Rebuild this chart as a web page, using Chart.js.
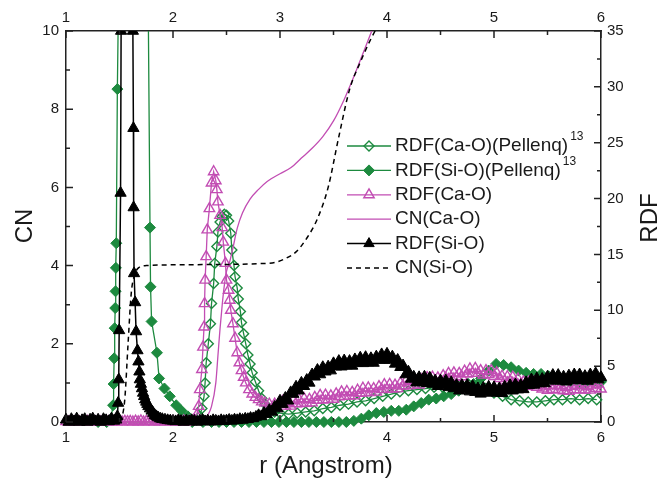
<!DOCTYPE html>
<html>
<head>
<meta charset="utf-8">
<script src="https://cdn.jsdelivr.net/npm/chart.js@4.4.0/dist/chart.umd.min.js"></script>
<style>
body { margin: 0; background: #fff; }
canvas { display: block; }
</style>
</head>
<body>
<canvas id="rdf-chart" width="659" height="478"></canvas>
<script>
var GREEN = '#1d8a3f';
var MAGENTA = '#c24db3';
var BLACK = '#000000';
var AXIS = '#222222';
var FONT = '"Liberation Sans", Arial, sans-serif';

// RDF(Ca-O)(Pellenq) - open diamonds, right axis
var rCaOPel = [2.18, 2.22, 2.25, 2.27, 2.29, 2.30, 2.31, 2.33, 2.35, 2.36, 2.38, 2.39, 2.41, 2.42, 2.44,
    2.46, 2.48, 2.50, 2.52, 2.54, 2.55, 2.57, 2.58, 2.60, 2.61, 2.63, 2.64, 2.66, 2.68, 2.70,
    2.72, 2.74, 2.77, 2.80, 2.83, 2.86, 2.90, 2.95, 3.00, 3.08, 3.16, 3.24, 3.32, 3.40, 3.48,
    3.56, 3.64, 3.72, 3.80, 3.88, 3.96, 4.04, 4.12, 4.20, 4.28, 4.36, 4.44, 4.52, 4.60, 4.68,
    4.76, 4.84, 4.92, 5.00, 5.08, 5.16, 5.24, 5.32, 5.40, 5.48, 5.56, 5.64, 5.72, 5.80, 5.88, 5.96];
var rdfCaOPel = [0, 0.2, 0.5, 1.2, 2.3, 3.5, 5.3, 7.0, 8.8, 10.6, 12.4, 14.2, 15.7, 17.0, 17.9,
    18.4, 18.6, 18.5, 18.0, 16.9, 15.4, 14.0, 13.0, 12.0, 11.0, 9.9, 8.9, 7.9, 7.0, 6.0,
    5.2, 4.4, 3.6, 2.8, 2.1, 1.6, 1.2, 0.9, 0.8, 0.7, 0.8, 0.9, 1.0, 1.2, 1.3,
    1.5, 1.6, 1.8, 1.9, 2.1, 2.3, 2.5, 2.7, 2.8, 2.9, 3.0, 3.1, 3.1, 3.2, 3.3,
    3.4, 3.3, 3.0, 2.6, 2.3, 2.0, 1.9, 1.8, 1.8, 1.9, 2.0, 2.0, 2.1, 2.0, 2.1, 2.0];

// RDF(Si-O)(Pellenq) - filled diamonds, right axis
var rSiOPel = [1.30, 1.38, 1.42, 1.44, 1.445, 1.45, 1.455, 1.46, 1.463, 1.466, 1.47, 1.48, 1.50, 1.60, 1.70,
    1.77, 1.785, 1.79, 1.80, 1.85, 1.87, 1.92, 1.97, 2.03, 2.08, 2.14, 2.20, 2.28, 2.36, 2.43,
    2.50, 2.57, 2.64, 2.71, 2.78, 2.85, 2.92, 2.99, 3.06, 3.13, 3.20, 3.27, 3.34, 3.41, 3.48,
    3.55, 3.62, 3.69, 3.76, 3.83, 3.90, 3.97, 4.04, 4.11, 4.18, 4.25, 4.32, 4.39, 4.46, 4.53,
    4.60, 4.67, 4.74, 4.81, 4.88, 4.95, 5.02, 5.09, 5.16, 5.23, 5.30, 5.37, 5.44, 5.51, 5.58,
    5.65, 5.72, 5.79, 5.86, 5.93, 6.00];
var rdfSiOPel = [0, 0, 0.3, 1.5, 3.4, 5.7, 8.4, 10.2, 11.7, 13.8, 16.0, 29.8, 45, 60, 50,
    35.5, 17.4, 12.1, 9.0, 6.2, 3.9, 3.0, 2.3, 1.5, 1.0, 0.5, 0.2, 0, 0, 0,
    0, 0, 0, 0, 0, 0, 0, 0, 0, 0, 0, 0, 0, 0, 0,
    0, 0, 0.1, 0.3, 0.6, 0.8, 0.9, 1.0, 1.0, 1.1, 1.4, 1.7, 2.0, 2.1, 2.3,
    2.5, 2.8, 3.1, 3.4, 3.9, 4.6, 5.2, 5.1, 4.9, 4.6, 4.4, 4.3, 4.3, 4.1, 3.9,
    3.7, 3.6, 3.5, 3.5, 3.6, 3.6];

// RDF(Ca-O) - open triangles, right axis (head, first peak, tail)
var rCaOHead = [1.000, 1.025, 1.050, 1.075, 1.100, 1.125, 1.150, 1.175,
    1.200, 1.225, 1.250, 1.275, 1.300, 1.325, 1.350, 1.375,
    1.400, 1.425, 1.450, 1.475, 1.500, 1.525, 1.550, 1.575,
    1.600, 1.625, 1.650, 1.675, 1.700, 1.725, 1.750, 1.775,
    1.800, 1.825, 1.850, 1.875, 1.900, 1.925, 1.950, 1.975,
    2.000, 2.025, 2.050, 2.075, 2.100, 2.125, 2.150, 2.175];
var rdfCaOHead = [0.05, 0, 0.08, 0.02, 0.1, 0, 0.06, 0.03,
    0.05, 0, 0.08, 0.02, 0.1, 0, 0.06, 0.03,
    0.05, 0, 0.08, 0.02, 0.1, 0, 0.06, 0.03,
    0.05, 0, 0.08, 0.02, 0.1, 0, 0.06, 0.03,
    0.05, 0, 0.08, 0.02, 0.1, 0, 0.06, 0.03,
    0.05, 0, 0.08, 0.02, 0.1, 0, 0.06, 0.03];
var rCaOPeak = [2.20, 2.22, 2.24, 2.25, 2.27, 2.28, 2.29, 2.295, 2.30, 2.31, 2.32, 2.34, 2.36, 2.38, 2.40,
    2.41, 2.42, 2.44, 2.46, 2.47, 2.49, 2.50, 2.52, 2.53, 2.54, 2.56, 2.58, 2.60, 2.62, 2.64,
    2.66, 2.68, 2.71, 2.74, 2.77, 2.80, 2.83, 2.86, 2.90, 2.95, 3.00];
var rdfCaOPeak = [0.2, 0.6, 1.4, 2.9, 4.7, 6.7, 8.5, 10.6, 12.7, 14.8, 17.2, 19.1, 21.4, 22.4, 21.6,
    20.8, 19.7, 18.5, 17.4, 16.1, 14.2, 12.7, 11.8, 10.9, 10.0, 8.8, 7.5, 6.2, 5.3, 4.6,
    4.0, 3.5, 2.9, 2.5, 2.2, 2.0, 1.8, 1.7, 1.6, 1.6, 1.6];
var rCaOTail = [3.025, 3.050, 3.075, 3.100, 3.125, 3.150, 3.175, 3.200,
    3.225, 3.250, 3.275, 3.300, 3.325, 3.350, 3.375, 3.400,
    3.425, 3.450, 3.475, 3.500, 3.525, 3.550, 3.575, 3.600,
    3.625, 3.650, 3.675, 3.700, 3.725, 3.750, 3.775, 3.800,
    3.825, 3.850, 3.875, 3.900, 3.925, 3.950, 3.975, 4.000,
    4.025, 4.050, 4.075, 4.100, 4.125, 4.150, 4.175, 4.200,
    4.225, 4.250, 4.275, 4.300, 4.325, 4.350, 4.375, 4.400,
    4.425, 4.450, 4.475, 4.500, 4.525, 4.550, 4.575, 4.600,
    4.625, 4.650, 4.675, 4.700, 4.725, 4.750, 4.775, 4.800,
    4.825, 4.850, 4.875, 4.900, 4.925, 4.950, 4.975, 5.000,
    5.025, 5.050, 5.075, 5.100, 5.125, 5.150, 5.175, 5.200,
    5.225, 5.250, 5.275, 5.300, 5.325, 5.350, 5.375, 5.400,
    5.425, 5.450, 5.475, 5.500, 5.525, 5.550, 5.575, 5.600,
    5.625, 5.650, 5.675, 5.700, 5.725, 5.750, 5.775, 5.800,
    5.825, 5.850, 5.875, 5.900, 5.925, 5.950, 5.975, 6.000];
var rdfCaOTail = [1.85, 1.42, 1.75, 1.42, 1.9, 1.63, 2.06, 1.65,
    2.09, 1.68, 2.02, 1.71, 2.2, 1.94, 2.38, 1.97,
    2.41, 2.0, 2.34, 2.03, 2.52, 2.26, 2.7, 2.29,
    2.73, 2.32, 2.66, 2.35, 2.84, 2.58, 3.02, 2.61,
    3.05, 2.64, 2.98, 2.67, 3.16, 2.9, 3.34, 2.93,
    3.37, 2.96, 3.3, 2.99, 3.48, 3.22, 3.66, 3.25,
    3.69, 3.28, 3.62, 3.31, 3.8, 3.54, 3.98, 3.57,
    4.01, 3.6, 3.95, 3.65, 4.15, 3.9, 4.35, 3.95,
    4.4, 4.0, 4.35, 4.05, 4.55, 4.3, 4.75, 4.35,
    4.8, 4.35, 4.6, 4.2, 4.6, 4.25, 4.6, 4.07,
    4.4, 3.88, 4.1, 3.67, 4.05, 3.68, 4.02, 3.51,
    3.85, 3.35, 3.6, 3.2, 3.6, 3.25, 3.6, 3.1,
    3.45, 2.96, 3.22, 2.83, 3.25, 2.92, 3.3, 2.85,
    3.25, 2.8, 3.1, 2.75, 3.2, 2.9, 3.3, 2.87,
    3.29, 2.86, 3.18, 2.85, 3.3, 3.0, 3.4, 2.95];

// CN(Ca-O) - magenta line, left axis
var rCnCaO = [1.0, 2.2, 2.3, 2.36, 2.40, 2.42, 2.44, 2.46, 2.48, 2.50, 2.53, 2.56, 2.60, 2.65,
    2.72, 2.80, 2.88, 3.0, 3.1, 3.2, 3.3, 3.4, 3.5, 3.6, 3.7, 3.8, 3.9];
var cnCaO = [0, 0, 0.1, 0.4, 1.0, 1.7, 2.4, 3.0, 3.5, 3.85, 4.1, 4.45, 4.95, 5.35,
    5.7, 5.95, 6.15, 6.35, 6.5, 6.75, 7.0, 7.3, 7.7, 8.25, 8.9, 9.6, 10.3];

// RDF(Si-O) - filled triangles, right axis (head, first peak, tail)
var rSiOHead = [1.000, 1.025, 1.050, 1.075, 1.100, 1.125, 1.150, 1.175,
    1.200, 1.225, 1.250, 1.275, 1.300, 1.325, 1.350, 1.375,
    1.400, 1.425, 1.450];
var rdfSiOHead = [0.2, 0.0, 0.25, 0.05, 0.3, 0.0, 0.15, 0.25,
    0.0, 0.2, 0.3, 0.05, 0.2, 0.0, 0.25, 0.15,
    0.05, 0.3, 0.1];
var rSiOPeak = [1.47, 1.48, 1.487, 1.493, 1.497, 1.51, 1.515, 1.53, 1.57, 1.61,
    1.625, 1.63, 1.632, 1.636, 1.646, 1.655, 1.668, 1.677, 1.686, 1.69,
    1.70, 1.71, 1.72, 1.73, 1.74, 1.75, 1.76, 1.77, 1.785, 1.80,
    1.815, 1.83, 1.845, 1.86, 1.88, 1.90, 1.925, 1.95];
var rdfSiOPeak = [0.2, 0.5, 1.7, 3.8, 8.2, 20.5, 35, 55, 70, 50,
    35, 26.3, 19.2, 13.3, 10.7, 8.1, 6.4, 5.4, 4.5, 3.8,
    3.4, 3.0, 2.6, 2.3, 2.0, 1.8, 1.6, 1.4, 1.2, 1.0,
    0.8, 0.6, 0.5, 0.4, 0.3, 0.25, 0.2, 0.15];
var rSiOTail = [1.975,
    2.000, 2.025, 2.050, 2.075, 2.100, 2.125, 2.150, 2.175,
    2.200, 2.225, 2.250, 2.275, 2.300, 2.325, 2.350, 2.375,
    2.400, 2.425, 2.450, 2.475, 2.500, 2.525, 2.550, 2.575,
    2.600, 2.625, 2.650, 2.675, 2.700, 2.725, 2.750, 2.775,
    2.800, 2.825, 2.850, 2.875, 2.900, 2.925, 2.950, 2.975,
    3.000, 3.025, 3.050, 3.075, 3.100, 3.125, 3.150, 3.175,
    3.200, 3.225, 3.250, 3.275, 3.300, 3.325, 3.350, 3.375,
    3.400, 3.425, 3.450, 3.475, 3.500, 3.525, 3.550, 3.575,
    3.600, 3.625, 3.650, 3.675, 3.700, 3.725, 3.750, 3.775,
    3.800, 3.825, 3.850, 3.875, 3.900, 3.925, 3.950, 3.975,
    4.000, 4.025, 4.050, 4.075, 4.100, 4.125, 4.150, 4.175,
    4.200, 4.225, 4.250, 4.275, 4.300, 4.325, 4.350, 4.375,
    4.400, 4.425, 4.450, 4.475, 4.500, 4.525, 4.550, 4.575,
    4.600, 4.625, 4.650, 4.675, 4.700, 4.725, 4.750, 4.775,
    4.800, 4.825, 4.850, 4.875, 4.900, 4.925, 4.950, 4.975,
    5.000, 5.025, 5.050, 5.075, 5.100, 5.125, 5.150, 5.175,
    5.200, 5.225, 5.250, 5.275, 5.300, 5.325, 5.350, 5.375,
    5.400, 5.425, 5.450, 5.475, 5.500, 5.525, 5.550, 5.575,
    5.600, 5.625, 5.650, 5.675, 5.700, 5.725, 5.750, 5.775,
    5.800, 5.825, 5.850, 5.875, 5.900, 5.925, 5.950, 5.975,
    6.000];
var rdfSiOTail = [0.12,
    0.1, 0.05, 0.15, 0.08, 0.0, 0.12, 0.05, 0.15,
    0.1, 0.0, 0.1, 0.18, 0.05, 0.12, 0.02, 0.15,
    0.1, 0.05, 0.15, 0.08, 0.12, 0.18, 0.1, 0.2,
    0.15, 0.25, 0.18, 0.28, 0.25, 0.35, 0.32, 0.45,
    0.6, 0.5, 0.8, 0.7, 1.05, 0.9, 1.35, 1.2,
    1.9, 1.6, 2.15, 1.9, 2.65, 2.5, 3.15, 2.8,
    3.5, 3.2, 3.75, 3.5, 4.25, 4.05, 4.65, 4.25,
    4.9, 4.5, 4.95, 4.6, 5.25, 4.95, 5.45, 4.95,
    5.5, 5.05, 5.45, 5.02, 5.6, 5.28, 5.75, 5.25,
    5.8, 5.32, 5.7, 5.28, 5.85, 5.55, 6.05, 5.55,
    6.1, 5.55, 5.85, 5.2, 5.55, 4.9, 5.05, 4.25,
    4.5, 3.85, 4.05, 3.52, 4.0, 3.62, 4.05, 3.47,
    3.95, 3.4, 3.7, 3.2, 3.7, 3.3, 3.7, 3.1,
    3.55, 3.0, 3.3, 2.8, 3.3, 2.9, 3.3, 2.72,
    3.2, 2.67, 3.0, 2.52, 3.05, 2.7, 3.15, 2.6,
    3.1, 2.62, 3.0, 2.57, 3.15, 2.82, 3.3, 2.8,
    3.35, 2.9, 3.3, 2.92, 3.55, 3.28, 3.8, 3.32,
    3.9, 3.45, 3.85, 3.45, 4.05, 3.72, 4.2, 3.68,
    4.2, 3.7, 4.05, 3.6, 4.15, 3.8, 4.25, 3.72,
    4.25, 3.75, 4.1, 3.67, 4.25, 3.9, 4.35, 3.8,
    4.0];

// CN(Si-O) - dashed line, left axis
var rCnSiO = [1.0, 1.5, 1.53, 1.55, 1.58, 1.61, 1.64, 1.68, 1.75, 2.0, 2.5, 2.8,
    2.95, 3.05, 3.15, 3.25, 3.35, 3.45, 3.55, 3.65, 3.75, 3.85, 3.95];
var cnSiO = [0, 0, 0.2, 0.6, 2.0, 3.3, 3.75, 3.95, 4.0, 4.02, 4.03, 4.05,
    4.08, 4.18, 4.35, 4.7, 5.2, 6.0, 7.3, 8.5, 9.2, 9.8, 10.3];

var LEGEND_TEXT = ['RDF(Ca-O)(Pellenq)', 'RDF(Si-O)(Pellenq)', 'RDF(Ca-O)', 'CN(Ca-O)', 'RDF(Si-O)', 'CN(Si-O)'];
var LEGEND_SUP = ['13', '13', '', '', '', ''];

function toPoints(rs, vs) {
    var pts = [];
    for (var i = 0; i < rs.length; i++) {
        pts.push({x: rs[i], y: vs[i]});
    }
    return pts;
}

var rCaO = rCaOHead.concat(rCaOPeak, rCaOTail);
var rdfCaO = rdfCaOHead.concat(rdfCaOPeak, rdfCaOTail);
var rSiO = rSiOHead.concat(rSiOPeak, rSiOTail);
var rdfSiO = rdfSiOHead.concat(rdfSiOPeak, rdfSiOTail);

var markerClip = {left: 7, top: 0, right: 7, bottom: 8};

var datasets = [
    {
        label: LEGEND_TEXT[0], data: toPoints(rCaOPel, rdfCaOPel), yAxisID: 'yR', order: 5,
        borderColor: GREEN, borderWidth: 1.3,
        pointStyle: 'rectRot', pointRadius: 5, pointBorderWidth: 1.4,
        pointBorderColor: GREEN, pointBackgroundColor: 'rgba(0,0,0,0)', clip: markerClip
    },
    {
        label: LEGEND_TEXT[1], data: toPoints(rSiOPel, rdfSiOPel), yAxisID: 'yR', order: 4,
        borderColor: GREEN, borderWidth: 1.3,
        pointStyle: 'rectRot', pointRadius: 5.5, pointBorderWidth: 1,
        pointBorderColor: GREEN, pointBackgroundColor: GREEN, clip: markerClip
    },
    {
        label: LEGEND_TEXT[2], data: toPoints(rCaO, rdfCaO), yAxisID: 'yR', order: 3,
        borderColor: MAGENTA, borderWidth: 1.3,
        pointStyle: 'triangle', pointRadius: 6, pointBorderWidth: 1.4,
        pointBorderColor: MAGENTA, pointBackgroundColor: 'rgba(0,0,0,0)', clip: markerClip
    },
    {
        label: LEGEND_TEXT[3], data: toPoints(rCnCaO, cnCaO), yAxisID: 'yL', order: 2,
        borderColor: MAGENTA, borderWidth: 1.3, pointRadius: 0,
        cubicInterpolationMode: 'monotone'
    },
    {
        label: LEGEND_TEXT[4], data: toPoints(rSiO, rdfSiO), yAxisID: 'yR', order: 1,
        borderColor: BLACK, borderWidth: 1.5,
        pointStyle: 'triangle', pointRadius: 6.5, pointBorderWidth: 1,
        pointBorderColor: BLACK, pointBackgroundColor: BLACK, clip: markerClip
    },
    {
        label: LEGEND_TEXT[5], data: toPoints(rCnSiO, cnSiO), yAxisID: 'yL', order: 0,
        borderColor: BLACK, borderWidth: 1.5, borderDash: [5, 4], pointRadius: 0,
        cubicInterpolationMode: 'monotone'
    }
];

// ticks in Origin style: pointing into the plot
var innerTicks = {
    id: 'innerTicks',
    afterDatasetsDraw: function(chart) {
        var ctx = chart.ctx;
        var a = chart.chartArea;
        var s = chart.scales;
        ctx.save();
        ctx.strokeStyle = AXIS;
        ctx.lineWidth = 1.5;
        ctx.beginPath();
        for (var v = 1; v <= 6.001; v += 0.5) {
            var x = s.x.getPixelForValue(v);
            var len = (v % 1 === 0) ? 7 : 4;
            ctx.moveTo(x, a.bottom); ctx.lineTo(x, a.bottom - len);
            ctx.moveTo(x, a.top); ctx.lineTo(x, a.top + len);
        }
        for (var c = 0; c <= 10; c++) {
            var y = s.yL.getPixelForValue(c);
            ctx.moveTo(a.left, y); ctx.lineTo(a.left + (c % 2 === 0 ? 7 : 4), y);
        }
        for (var r = 0; r <= 35; r += 2.5) {
            var y2 = s.yR.getPixelForValue(r);
            ctx.moveTo(a.right, y2); ctx.lineTo(a.right - (r % 5 === 0 ? 7 : 4), y2);
        }
        ctx.stroke();
        ctx.restore();
    }
};

// legend with superscripts, and the axis titles
var legendAndTitles = {
    id: 'legendAndTitles',
    afterDraw: function(chart) {
        var ctx = chart.ctx;
        ctx.save();
        for (var i = 0; i < LEGEND_TEXT.length; i++) {
            var ds = chart.data.datasets[i];
            var y = 146 + i * 24.4;
            ctx.strokeStyle = ds.borderColor;
            ctx.lineWidth = ds.borderWidth;
            ctx.setLineDash(ds.borderDash || []);
            ctx.beginPath();
            ctx.moveTo(347, y);
            ctx.lineTo(391, y);
            ctx.stroke();
            ctx.setLineDash([]);
            if (ds.pointRadius > 0) {
                ctx.fillStyle = ds.pointBackgroundColor;
                ctx.strokeStyle = ds.pointBorderColor;
                ctx.lineWidth = ds.pointBorderWidth;
                Chart.helpers.drawPoint(ctx, {
                    pointStyle: ds.pointStyle, radius: Math.min(ds.pointRadius, 6),
                    rotation: 0, borderWidth: ds.pointBorderWidth
                }, 369, y);
            }
            ctx.fillStyle = '#1a1a1a';
            ctx.textAlign = 'left';
            ctx.textBaseline = 'middle';
            ctx.font = '19px ' + FONT;
            ctx.fillText(LEGEND_TEXT[i], 395, y);
            if (LEGEND_SUP[i]) {
                var w = ctx.measureText(LEGEND_TEXT[i]).width;
                ctx.font = '12px ' + FONT;
                ctx.fillText(LEGEND_SUP[i], 395 + w + 2, y - 9);
            }
        }

        ctx.fillStyle = '#1a1a1a';
        ctx.font = '24px ' + FONT;
        ctx.textAlign = 'center';
        ctx.textBaseline = 'alphabetic';
        ctx.fillText('r (Angstrom)', 326, 473);

        ctx.save();
        ctx.translate(32, 226);
        ctx.rotate(-Math.PI / 2);
        ctx.fillText('CN', 0, 0);
        ctx.restore();

        ctx.save();
        ctx.translate(657, 218);
        ctx.rotate(-Math.PI / 2);
        ctx.fillText('RDF', 0, 0);
        ctx.restore();

        ctx.restore();
    }
};

var tickFont = {family: FONT, size: 15};

var chart = new Chart(document.getElementById('rdf-chart'), {
    type: 'line',
    data: {datasets: datasets},
    options: {
        responsive: false,
        animation: false,
        events: [],
        devicePixelRatio: 1,
        layout: {padding: 0},
        elements: {line: {tension: 0}},
        plugins: {legend: {display: false}, tooltip: {enabled: false}},
        scales: {
            x: {
                type: 'linear', position: 'bottom', min: 1, max: 6,
                grid: {display: false, drawTicks: false},
                border: {display: true, color: AXIS, width: 1.5},
                ticks: {stepSize: 1, padding: 7, color: '#1a1a1a', font: tickFont, maxRotation: 0, autoSkip: false},
                afterFit: function(s) { s.height = 56; }
            },
            x2: {
                type: 'linear', position: 'top', min: 1, max: 6,
                grid: {display: false, drawTicks: false},
                border: {display: true, color: AXIS, width: 1.5},
                ticks: {stepSize: 1, padding: 4, color: '#1a1a1a', font: tickFont, maxRotation: 0, autoSkip: false},
                afterFit: function(s) { s.height = 31; }
            },
            yL: {
                type: 'linear', position: 'left', min: 0, max: 10,
                grid: {display: false, drawTicks: false},
                border: {display: true, color: AXIS, width: 1.5},
                ticks: {stepSize: 2, padding: 7, color: '#1a1a1a', font: tickFont, autoSkip: false},
                afterFit: function(s) { s.width = 66; }
            },
            yR: {
                type: 'linear', position: 'right', min: 0, max: 35,
                grid: {display: false, drawTicks: false},
                border: {display: true, color: AXIS, width: 1.5},
                ticks: {stepSize: 5, padding: 6, color: '#1a1a1a', font: tickFont, autoSkip: false},
                afterFit: function(s) { s.width = 58; }
            }
        }
    },
    plugins: [innerTicks, legendAndTitles]
});
</script>
</body>
</html>
